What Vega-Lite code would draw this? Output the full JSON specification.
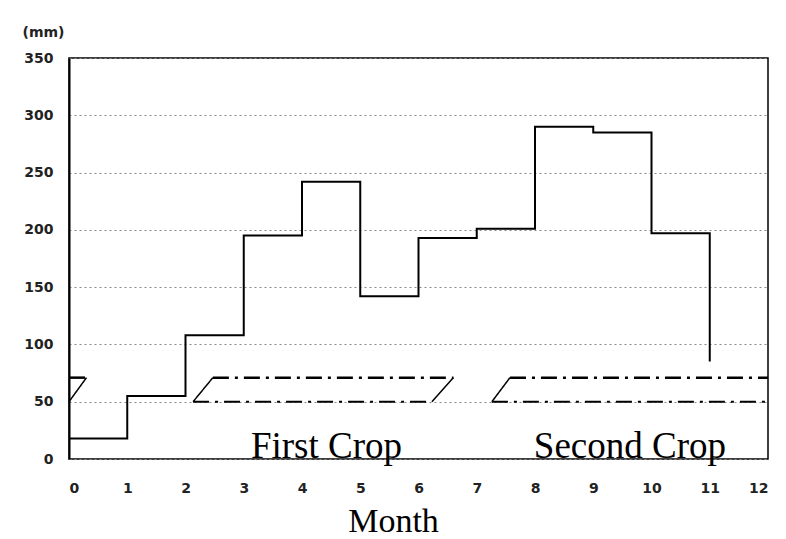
{
  "$schema": "https://vega.github.io/schema/vega-lite/v6.json",
  "autosize": "none",
  "width": 699,
  "height": 401,
  "padding": {"left": 69, "top": 58, "right": 18, "bottom": 80},
  "background": "white",
  "config": {
    "view": {"stroke": "black", "strokeWidth": 1.5},
    "axis": {"labelFont": "DejaVu Sans", "labelFontWeight": "bold", "labelFontSize": 14, "labelColor": "#222"}
  },
  "datasets": {
    "rain": [
      {"month": 0, "mm": 18},
      {"month": 1, "mm": 55},
      {"month": 2, "mm": 108},
      {"month": 3, "mm": 195},
      {"month": 4, "mm": 242},
      {"month": 5, "mm": 142},
      {"month": 6, "mm": 193},
      {"month": 7, "mm": 201},
      {"month": 8, "mm": 290},
      {"month": 9, "mm": 285},
      {"month": 10, "mm": 197},
      {"month": 11, "mm": 85}
    ],
    "crops": [
      {"crop": "First", "edge": "bottom", "x1": 2.13, "x2": 6.23, "y1": 50, "y2": 50},
      {"crop": "First", "edge": "top", "x1": 2.47, "x2": 6.6, "y1": 71, "y2": 71},
      {"crop": "First", "edge": "side", "x1": 2.13, "x2": 2.47, "y1": 50, "y2": 71},
      {"crop": "First", "edge": "side", "x1": 6.23, "x2": 6.6, "y1": 50, "y2": 71},
      {"crop": "Second", "edge": "bottom", "x1": 7.26, "x2": 12, "y1": 50, "y2": 50},
      {"crop": "Second", "edge": "top", "x1": 7.57, "x2": 12, "y1": 71, "y2": 71},
      {"crop": "Second", "edge": "side", "x1": 7.26, "x2": 7.57, "y1": 50, "y2": 71},
      {"crop": "Second", "edge": "top", "x1": 0, "x2": 0.3, "y1": 71, "y2": 71},
      {"crop": "Second", "edge": "side", "x1": 0, "x2": 0.3, "y1": 50, "y2": 71}
    ],
    "labels": [
      {"label": "First Crop", "month": 4.42, "mm": 1},
      {"label": "Second Crop", "month": 9.63, "mm": 1}
    ]
  },
  "layer": [
    {
      "data": {"name": "rain"},
      "mark": {"type": "line", "interpolate": "step-after", "color": "black", "strokeWidth": 2},
      "encoding": {
        "x": {
          "field": "month", "type": "quantitative",
          "scale": {"domain": [0, 12], "nice": false},
          "axis": {
            "values": [0,1,2,3,4,5,6,7,8,9,10,11,12], "format": "d", "grid": false, "ticks": false, "domain": false,
            "labelPadding": 22,
            "title": "Month", "titleFont": "Liberation Serif", "titleFontSize": 34, "titleFontWeight": "normal",
            "titleColor": "black", "titleX": 324, "titleY": 72, "titleBaseline": "alphabetic", "titleAlign": "center"
          }
        },
        "y": {
          "field": "mm", "type": "quantitative",
          "scale": {"domain": [0, 350], "nice": false},
          "axis": {
            "values": [0,50,100,150,200,250,300,350], "ticks": false, "domain": true,
            "domainColor": "black", "domainWidth": 2,
            "grid": true, "gridColor": "#888", "gridDash": [2, 3], "gridWidth": 1,
            "labelPadding": 16,
            "title": "(mm)", "titleAngle": 0, "titleFont": "DejaVu Sans", "titleFontSize": 14,
            "titleFontWeight": "bold", "titleColor": "#222",
            "titleX": -47, "titleY": -22, "titleAlign": "left", "titleBaseline": "alphabetic"
          }
        }
      }
    },
    {
      "data": {"name": "crops"},
      "mark": {"type": "rule", "color": "black"},
      "encoding": {
        "x": {"field": "x1", "type": "quantitative"},
        "x2": {"field": "x2"},
        "y": {"field": "y1", "type": "quantitative"},
        "y2": {"field": "y2"},
        "strokeDash": {
          "field": "edge", "type": "nominal", "legend": null,
          "scale": {"domain": ["top", "bottom", "side"], "range": [[16, 6, 3, 6], [16, 6, 3, 6], [1, 0]]}
        },
        "strokeWidth": {
          "field": "edge", "type": "nominal", "legend": null,
          "scale": {"domain": ["top", "bottom", "side"], "range": [2.5, 1.5, 1.8]}
        }
      }
    },
    {
      "data": {"name": "labels"},
      "mark": {"type": "text", "font": "Liberation Serif", "fontSize": 37, "baseline": "alphabetic", "align": "center", "color": "black"},
      "encoding": {
        "x": {"field": "month", "type": "quantitative"},
        "y": {"field": "mm", "type": "quantitative"},
        "text": {"field": "label"}
      }
    }
  ]
}
